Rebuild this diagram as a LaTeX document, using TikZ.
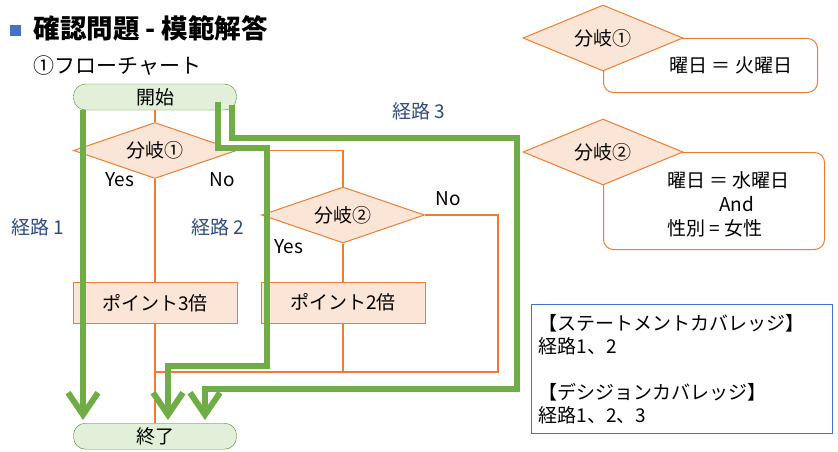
\documentclass[tikz,border=0pt]{standalone}
\usepackage{fontspec}
\setmainfont{Noto Sans CJK JP}
\usepackage{tikz}
\usetikzlibrary{positioning, arrows.meta, shapes.geometric}

\definecolor{routegreen}{HTML}{70AD47}
\definecolor{termfill}{HTML}{E2F0D9}
\definecolor{termline}{HTML}{548235}
\definecolor{flowline}{HTML}{ED7D31}
\definecolor{stepfill}{HTML}{FBE5D6}
\definecolor{routeblue}{HTML}{2F4B7C}
\definecolor{notebox}{HTML}{4472C4}

\begin{document}
\begin{tikzpicture}[
        x=1pt, y=-1pt,
        font=\fontsize{19}{24}\selectfont,
        % Styles
        termbox/.style={rectangle, draw=termline, fill=termfill, rounded corners=12pt,
                minimum width=163pt, minimum height=26pt, inner sep=0pt},
        procbox/.style={rectangle, draw=flowline, fill=stepfill, line width=1pt,
                minimum width=164pt, minimum height=41pt, inner sep=0pt},
        decision/.style={diamond, aspect=3, draw=flowline, fill=stepfill, line width=1pt,
                minimum width=163pt, minimum height=56pt, inner sep=0pt},
        condbox/.style={rectangle, draw=flowline, rounded corners=10pt, line width=1pt,
                anchor=north west, inner sep=0pt},
        flow/.style={draw=flowline, line width=1.3pt},
        route/.style={draw=routegreen, line width=6pt, shorten >=3pt,
                -{Straight Barb[length=22pt, width=30pt]}},
        routelab/.style={text=routeblue},
        ]
        \useasboundingbox (0,0) rectangle (838,452);

        % === TITLE ===
        \node[fill=notebox, minimum size=11pt, inner sep=0pt] (bullet) at (15.5,30.5) {};
        \node[anchor=west, font=\bfseries\fontsize{26.5}{30}\selectfont] (title) at (30,28) {確認問題 - 模範解答};
        \node[anchor=west, font=\fontsize{21}{25}\selectfont] (subtitle) at (30,66) {①フローチャート};

        % === FLOWCHART ===
        \node[termbox] (start) at (155,97) {開始};
        \node[decision] (d1) at (155,150.5) {分岐①};
        \node[procbox, below=103pt of d1] (p3) {ポイント3倍};
        \node[decision] (d2) at (343,215) {分岐②};
        \node[procbox, below=38pt of d2] (p2) {ポイント2倍};
        \node[termbox, below=99pt of p3] (end) {終了};

        \node (y1) at (120,180) {Yes};
        \node (n1) at (222,180) {No};
        \node (y2) at (289,247) {Yes};
        \node (n2) at (448,199) {No};

        % Connections
        \coordinate (merge) at (498,372);
        \draw[flow] (start) -- (d1);
        \draw[flow] (d1.east) -| (d2.north);
        \draw[flow] (d1) -- (p3);
        \draw[flow] (d2) -- (p2);
        \draw[flow] (p3) -- (end);
        \draw[flow] (d2.east) -| (merge) -- (merge -| p3.south);
        \draw[flow] (p2.south) -- (p2.south |- merge);

        % === ROUTES ===
        \node[routelab] (lab1) at (38,227) {経路 1};
        \node[routelab] (lab2) at (218,227) {経路 2};
        \node[routelab] (lab3) at (419,111) {経路 3};

        \coordinate (r1a) at (83,110);
        \coordinate (r2a) at (218,102);
        \coordinate (r2b) at (267,148);
        \coordinate (r2c) at (168,366);
        \coordinate (r3a) at (232,105);
        \coordinate (r3b) at (517,138);
        \coordinate (r3c) at (205,389);
        \draw[route] (r1a) -- (r1a |- end.north);
        \draw[route] (r2a) |- (r2b) |- (r2c) -- (r2c |- end.north);
        \draw[route] (r3a) |- (r3b) |- (r3c) -- (r3c |- end.north);

        % === CONDITIONS ===
        \node[condbox, minimum width=214pt, minimum height=54pt] (c1box) at (603,38) {};
        \node[decision, minimum width=160pt, minimum height=66pt] (cd1) at (603,38) {分岐①};
        \node (c1txt) at (731,65) {曜日 ＝ 火曜日};

        \node[condbox, minimum width=221pt, minimum height=97pt] (c2box) at (603,152) {};
        \node[decision, minimum width=160pt, minimum height=66pt] (cd2) at (603,152) {分岐②};
        \node[anchor=west, align=left, inner sep=0pt] (c2txt) at (667,204)
            {曜日 ＝ 水曜日\\\hspace*{52pt}And\\性別 = 女性};

        % === COVERAGE ===
        \node[draw=notebox, line width=1pt, anchor=north west, minimum height=129pt,
            text width=287pt, inner xsep=7pt, align=left, font=\fontsize{19}{23}\selectfont]
            (cov) at (531,304)
            {【ステートメントカバレッジ】\\経路1、2\\[23pt]【デシジョンカバレッジ】\\経路1、2、3};

    \end{tikzpicture}
\end{document}
